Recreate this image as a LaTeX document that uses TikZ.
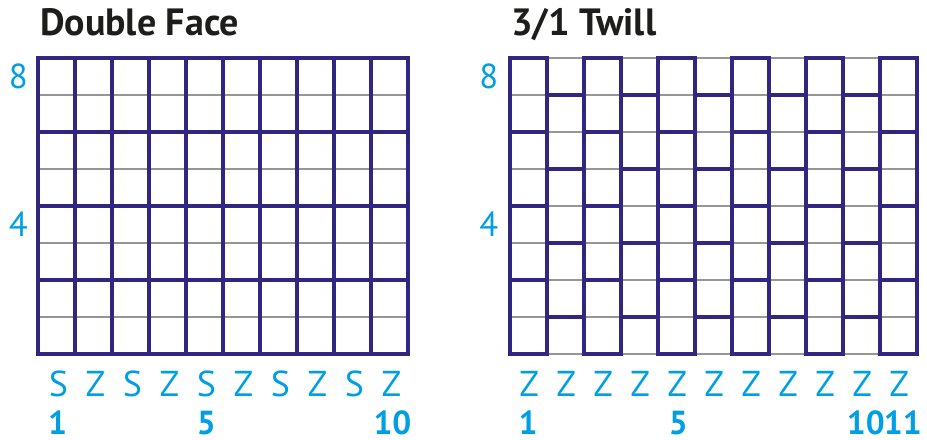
\documentclass[tikz,border=0pt]{standalone}
\usepackage{fontspec}
\setmainfont{PT Sans}
\usepackage{xcolor}
\usepackage{tikz}
\usetikzlibrary{positioning}
\definecolor{weaveblue}{RGB}{49, 39, 131}
\definecolor{labelcyan}{RGB}{0, 159, 227}
\definecolor{titlegray}{RGB}{29, 29, 27}
\definecolor{guidegray}{RGB}{150, 150, 150}

\begin{document}
\begin{tikzpicture}[x=27.75pt, y=27.75pt,
    thread/.style={line width=3pt, draw=weaveblue, line cap=rect},
    guide/.style={line width=0.8pt, draw=guidegray},
    title/.style={font=\bfseries\fontsize{28.5}{30}\selectfont, text=titlegray, inner sep=0pt, anchor=base west},
    twist/.style={font=\fontsize{27}{30}\selectfont, text=labelcyan, inner sep=0pt, anchor=base},
    count/.style={font=\bfseries\fontsize{25}{28}\selectfont, text=labelcyan, inner sep=0pt, anchor=base},
    rowno/.style={font=\fontsize{26}{30}\selectfont, text=labelcyan, inner sep=0pt}]
    \useasboundingbox (-1.027,-2.324) rectangle (24.03,9.568);

    % Double face: thread pairs over every column
    \node[title] (dftitle) at (0.05,8.62) {Double Face};
    \foreach \r in {1,3,5,7} \draw[guide] (0,\r) -- (10,\r);
    \foreach \r in {0,2,...,8} \draw[thread] (0,\r) -- (10,\r);
    \foreach \c in {0,...,10} \draw[thread] (\c,0) -- (\c,8);

    \node[rowno] (dfrow8) at (-0.53,7.5) {8};
    \node[rowno] (dfrow4) at (-0.53,3.5) {4};
    \foreach \t [count=\i] in {S,Z,S,Z,S,Z,S,Z,S,Z}
        \node[twist] (dftwist\i) at (\i-0.45,-1.16) {\t};
    \node[count] (dfcount1) at (0.53,-2.19) {1};
    \node[count] (dfcount5) at (4.55,-2.19) {5};
    \node[count] (dfcount10) at (9.58,-2.19) {10};

    % 3/1 twill: alternate columns offset by one row
    \begin{scope}[shift={(12.757,0)}]
        \node[title] (twtitle) at (0.03,8.62) {3/1 Twill};
        \foreach \r in {0,...,8} \draw[guide] (0,\r) -- (11,\r);
        \foreach \c in {0,...,11} \draw[thread] (\c,0) -- (\c,8);
        \foreach \c in {0,2,...,10}
            \foreach \r in {0,2,...,8} \draw[thread] (\c,\r) -- ++(1,0);
        \foreach \c in {1,3,...,9}
            \foreach \r in {1,3,5,7} \draw[thread] (\c,\r) -- ++(1,0);

        \node[rowno] (twrow8) at (-0.57,7.5) {8};
        \node[rowno] (twrow4) at (-0.57,3.5) {4};
        \foreach \i in {1,...,11}
            \node[twist] (twtwist\i) at (\i-0.48,-1.16) {Z};
        \node[count] (twcount1) at (0.49,-2.19) {1};
        \node[count] (twcount5) at (4.55,-2.19) {5};
        \node[count] (twcount10) at (9.62,-2.19) {10};
        \node[count] (twcount11) at (10.62,-2.19) {11};
    \end{scope}
\end{tikzpicture}
\end{document}
